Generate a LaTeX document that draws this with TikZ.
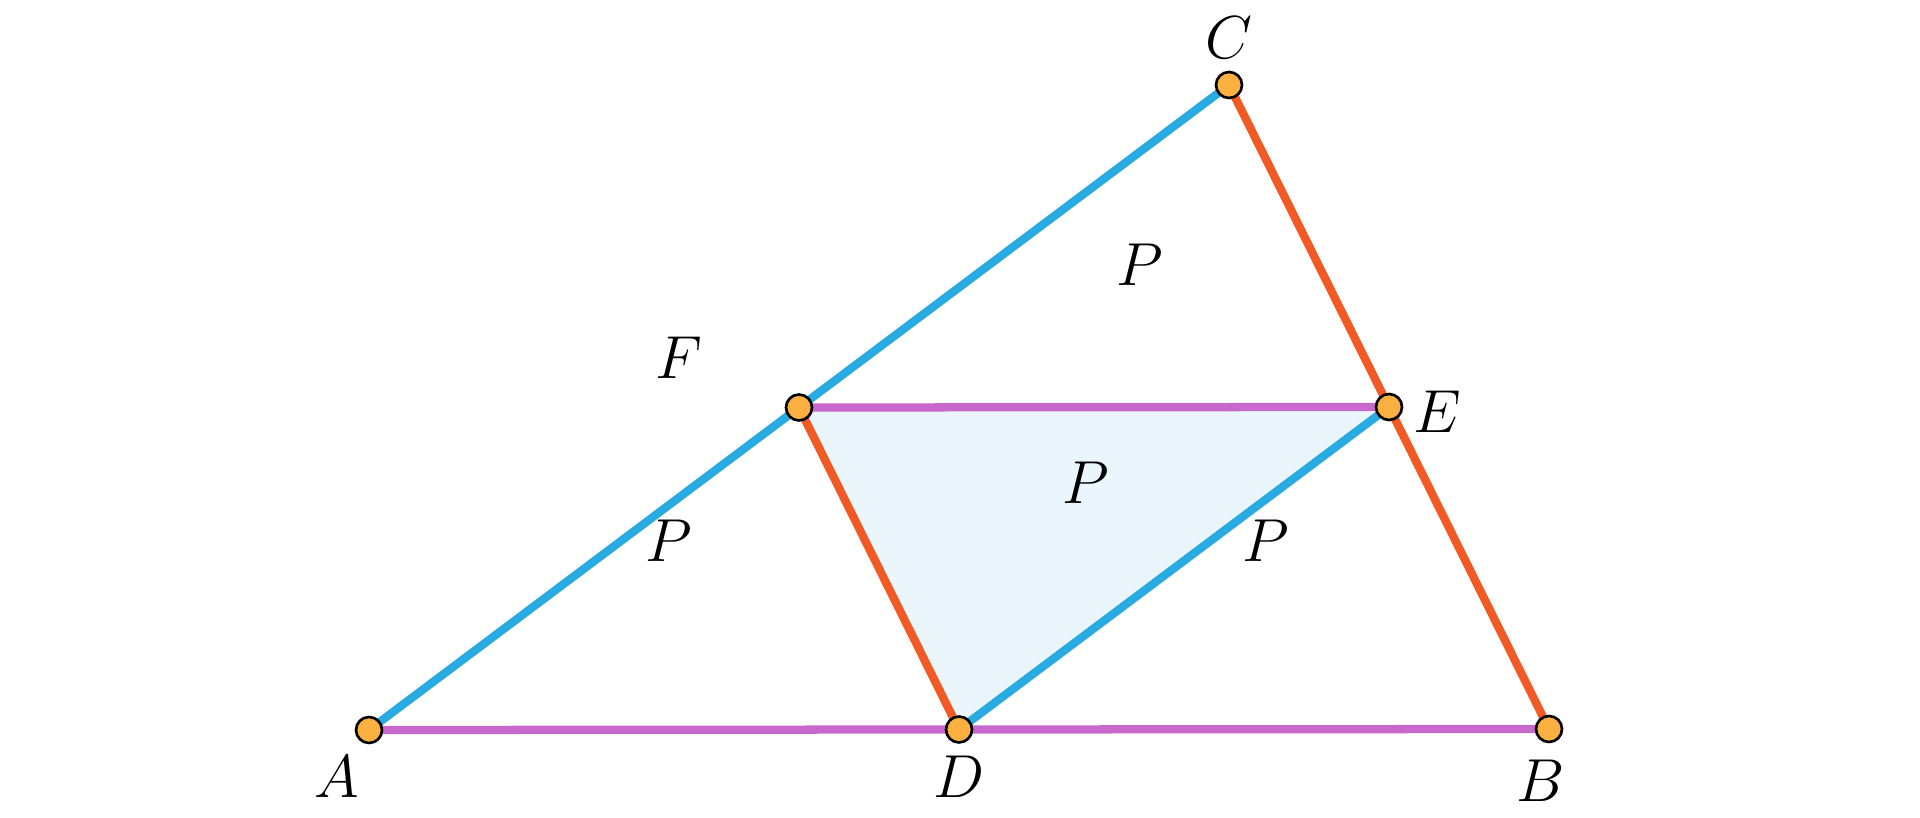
\documentclass[tikz,border=0pt]{standalone}
\usetikzlibrary{calc}
\definecolor{segblue}{RGB}{41,171,226}
\definecolor{segorange}{RGB}{241,90,36}
\definecolor{segpink}{RGB}{200,104,204}
\definecolor{ptfill}{RGB}{251,176,64}
\definecolor{midfill}{RGB}{234,246,252}
\tikzset{
  seg/.style={line width=2.35pt},
  pt/.style={circle,draw=black,fill=ptfill,line width=0.75pt,minimum size=0.26cm,inner sep=0pt}
}
\begin{document}
\begin{tikzpicture}[font=\fontsize{19}{23}\selectfont]
\useasboundingbox (0,0) rectangle (19.2,8.17);
\coordinate (A) at (3.69,0.87);
\coordinate (B) at (15.49,0.88);
\coordinate (C) at (12.29,7.32);
\coordinate (D) at ($(A)!0.5!(B)$);
\coordinate (E) at ($(B)!0.5!(C)$);
\coordinate (F) at ($(A)!0.5!(C)$);
% medial triangle
\fill[midfill] (D) -- (E) -- (F) -- cycle;
\draw[seg,segpink] (A) -- (B);
\draw[seg,segpink] (F) -- (E);
\draw[seg,segblue] (A) -- (C);
\draw[seg,segblue] (D) -- (E);
\draw[seg,segorange] (C) -- (B);
\draw[seg,segorange] (F) -- (D);
\foreach \p in {A,B,C,D,E,F} \node[pt] (pt\p) at (\p) {};
\node (lA) at ($(A)+(-0.32,-0.47)$) {$A$};
\node (lB) at ($(B)+(-0.08,-0.52)$) {$B$};
\node (lC) at ($(C)+(0.0,0.47)$) {$C$};
\node (lD) at ($(D)+(0.0,-0.47)$) {$D$};
\node (lE) at ($(E)+(0.48,-0.05)$) {$E$};
\node (lF) at ($(F)+(-1.2,0.5)$) {$F$};
% areas
\node (pC) at (11.40,5.52) {$P$};
\node (pM) at (10.86,3.34) {$P$};
\node (pA) at (6.69,2.76) {$P$};
\node (pB) at (12.66,2.76) {$P$};
\end{tikzpicture}
\end{document}
